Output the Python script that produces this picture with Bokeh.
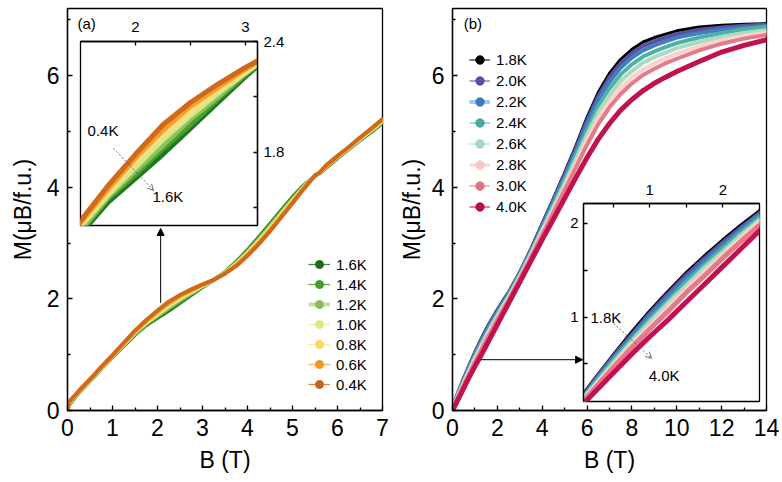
from bokeh.plotting import figure
from bokeh.layouts import row
from bokeh.models import (Range1d, FixedTicker, Legend, LegendItem, Label, Arrow,
                          NormalHead, OpenHead)
from bokeh.embed import file_html
from bokeh.resources import INLINE

FONT = "Liberation Sans"
NAN = float("nan")

# ---------------- panel (a) data ----------------
B_a = [0, 0.03, 0.25, 0.5, 0.75, 1.0, 1.25, 1.5, 1.75, 2.0, 2.25, 2.5, 2.75, 3.0, 3.25,
       3.5, 3.75, 4.0, 4.25, 4.5, 4.75, 5.0, 5.25, 5.5, 5.6, 5.75, 6.0, 6.25, 6.5, 6.75, 7.0]
M_16K = [0.00, 0.10, 0.32, 0.53, 0.75, 0.96, 1.16, 1.36, 1.53, 1.66, 1.79, 1.93, 2.07, 2.21, 2.34,
         2.48, 2.66, 2.87, 3.10, 3.34, 3.58, 3.82, 4.03, 4.20, 4.25, 4.35, 4.52, 4.68, 4.84, 4.99, 5.15]
M_14K = [0.00, 0.11, 0.33, 0.54, 0.75, 0.96, 1.17, 1.37, 1.55, 1.68, 1.82, 1.95, 2.09, 2.22, 2.34,
         2.47, 2.65, 2.85, 3.08, 3.32, 3.56, 3.80, 4.02, 4.20, 4.25, 4.36, 4.53, 4.69, 4.85, 5.00, 5.16]
M_12K = [0.00, 0.12, 0.33, 0.54, 0.76, 0.97, 1.18, 1.38, 1.56, 1.70, 1.84, 1.98, 2.10, 2.23, 2.34,
         2.47, 2.64, 2.84, 3.06, 3.30, 3.54, 3.78, 4.01, 4.20, 4.25, 4.36, 4.53, 4.69, 4.86, 5.01, 5.17]
M_10K = [0.00, 0.12, 0.33, 0.55, 0.76, 0.97, 1.18, 1.40, 1.57, 1.72, 1.87, 2.00, 2.12, 2.23, 2.34,
         2.47, 2.62, 2.82, 3.04, 3.27, 3.52, 3.76, 4.00, 4.20, 4.25, 4.37, 4.54, 4.70, 4.86, 5.02, 5.18]
M_08K = [0.00, 0.13, 0.34, 0.55, 0.77, 0.98, 1.19, 1.41, 1.59, 1.75, 1.90, 2.02, 2.14, 2.24, 2.34,
         2.46, 2.61, 2.80, 3.02, 3.25, 3.50, 3.75, 3.99, 4.21, 4.26, 4.38, 4.55, 4.71, 4.87, 5.03, 5.20]
M_06K = [0.00, 0.14, 0.34, 0.55, 0.77, 0.98, 1.20, 1.42, 1.60, 1.77, 1.92, 2.05, 2.15, 2.25, 2.34,
         2.46, 2.60, 2.79, 3.00, 3.23, 3.48, 3.73, 3.98, 4.21, 4.26, 4.38, 4.55, 4.71, 4.88, 5.04, 5.21]
M_04K = [0.00, 0.15, 0.35, 0.56, 0.78, 0.99, 1.21, 1.43, 1.62, 1.79, 1.95, 2.07, 2.17, 2.26, 2.34,
         2.45, 2.59, 2.77, 2.98, 3.21, 3.46, 3.71, 3.97, 4.21, 4.26, 4.39, 4.56, 4.72, 4.89, 5.05, 5.22]

labels_a = ["1.6K", "1.4K", "1.2K", "1.0K", "0.8K", "0.6K", "0.4K"]
series_a = [M_16K, M_14K, M_12K, M_10K, M_08K, M_06K, M_04K]
colors_a = ["#1c7a1c", "#4f9c33", "#8fc257", "#d6e98a", "#fddf80", "#f89f2e", "#cf6a1a"]
leg_line_a = ["#3f8f3f", "#66aa4a", "#c6dca6", "#e3efa6", "#fde6a0", "#fbb45e", "#d98a4a"]
leg_mark_a = ["#1a6a1a", "#4a9a30", "#8cbd52", "#dbea7a", "#fdd65a", "#f7941d", "#c8641a"]
leg_w_a = [1.3, 1.3, 4, 1.3, 1.3, 1.3, 1.3]

# ---------------- panel (b) data ----------------
B_b = [0, 0.1, 0.25, 0.5, 0.75, 1.0, 1.25, 1.5, 1.75, 2.0, 2.25, 2.5, 3.0, 3.5, 4.0, 4.5,
       5.0, 5.5, 6.0, 6.5, 7.0, 7.5, 8.0, 8.5, 9.0, 9.5, 10, 11, 12, 13, 14]
M_18K = [0.03, 0.17, 0.33, 0.58, 0.82, 1.05, 1.26, 1.46, 1.64, 1.81, 1.97, 2.12, 2.48, 2.90, 3.35, 3.80,
         4.26, 4.74, 5.25, 5.70, 6.04, 6.29, 6.47, 6.60, 6.68, 6.74, 6.80, 6.87, 6.90, 6.92, 6.93]
M_20K = [0.03, 0.16, 0.32, 0.57, 0.80, 1.03, 1.24, 1.44, 1.62, 1.79, 1.95, 2.10, 2.47, 2.88, 3.33, 3.77,
         4.22, 4.69, 5.19, 5.63, 5.97, 6.22, 6.40, 6.53, 6.61, 6.68, 6.74, 6.82, 6.86, 6.89, 6.91]
M_22K = [0.02, 0.15, 0.31, 0.55, 0.78, 1.01, 1.21, 1.41, 1.59, 1.76, 1.93, 2.09, 2.45, 2.86, 3.30, 3.74,
         4.18, 4.64, 5.13, 5.56, 5.89, 6.14, 6.32, 6.45, 6.54, 6.61, 6.68, 6.76, 6.82, 6.86, 6.89]
M_24K = [0.02, 0.14, 0.29, 0.53, 0.75, 0.97, 1.17, 1.37, 1.55, 1.73, 1.90, 2.06, 2.43, 2.83, 3.26, 3.69,
         4.12, 4.57, 5.03, 5.45, 5.77, 6.02, 6.20, 6.34, 6.43, 6.51, 6.58, 6.68, 6.76, 6.83, 6.87]
M_26K = [0.02, 0.13, 0.27, 0.50, 0.73, 0.94, 1.14, 1.33, 1.52, 1.69, 1.87, 2.03, 2.40, 2.81, 3.23, 3.64,
         4.06, 4.50, 4.94, 5.34, 5.65, 5.90, 6.08, 6.23, 6.33, 6.41, 6.49, 6.60, 6.69, 6.76, 6.81]
M_28K = [0.01, 0.12, 0.26, 0.48, 0.70, 0.90, 1.10, 1.29, 1.48, 1.66, 1.84, 2.01, 2.38, 2.78, 3.19, 3.59,
         4.00, 4.42, 4.85, 5.23, 5.54, 5.78, 5.97, 6.11, 6.22, 6.31, 6.39, 6.52, 6.63, 6.71, 6.77]
M_30K = [0.01, 0.11, 0.24, 0.46, 0.67, 0.87, 1.06, 1.26, 1.44, 1.63, 1.81, 1.98, 2.36, 2.75, 3.15, 3.55,
         3.95, 4.35, 4.76, 5.13, 5.43, 5.67, 5.86, 6.01, 6.12, 6.22, 6.30, 6.45, 6.57, 6.66, 6.73]
M_40K = [0.00, 0.08, 0.20, 0.40, 0.60, 0.79, 0.97, 1.16, 1.35, 1.54, 1.73, 1.92, 2.30, 2.68, 3.06, 3.43,
         3.80, 4.17, 4.53, 4.86, 5.14, 5.38, 5.57, 5.73, 5.86, 5.97, 6.07, 6.25, 6.42, 6.54, 6.64]

labels_b = ["1.8K", "2.0K", "2.2K", "2.4K", "2.6K", "2.8K", "3.0K", "4.0K"]
series_b = [M_18K, M_20K, M_22K, M_24K, M_26K, M_28K, M_30K, M_40K]
colors_b = ["#000000", "#5c4fa0", "#3f7fc0", "#4fb0a5", "#a7dcc2", "#fbd2ce", "#e47a8a", "#c0124e"]
widths_b = [3, 4, 4, 4, 4, 4, 4, 5]
leg_line_b = ["#333333", "#7a70b4", "#a9c8e8", "#7cc4bc", "#c2e6d4", "#fcd8d5", "#ea95a2", "#c8406e"]
leg_mark_b = ["#000000", "#5c4fa0", "#3b7bc0", "#4aaaa0", "#a0d8bc", "#f9c6c2", "#e27085", "#b80d4a"]
leg_w_b = [1.3, 1.3, 4, 1.3, 1.3, 3, 1.3, 1.3]


def style(p, xt, xm, yt, ym, tick_size, tin=5, mtin=3):
    p.xaxis.ticker = FixedTicker(ticks=xt, minor_ticks=xm)
    p.yaxis.ticker = FixedTicker(ticks=yt, minor_ticks=ym)
    p.xgrid.visible = False
    p.ygrid.visible = False
    p.outline_line_color = "black"
    p.outline_line_width = 1.3
    p.outline_line_alpha = 1
    for ax in p.axis:
        ax.major_tick_in = tin
        ax.major_tick_out = 0
        ax.minor_tick_in = mtin
        ax.minor_tick_out = 0
        ax.axis_line_width = 1.3
        ax.major_tick_line_width = 1.3
        ax.minor_tick_line_width = 1.3
        ax.major_label_text_font = FONT
        ax.major_label_text_font_size = tick_size
        ax.major_label_text_color = "black"
        ax.axis_label_text_font = FONT
        ax.axis_label_text_font_style = "normal"
        ax.axis_label_text_font_size = "23px"
        ax.axis_label_text_color = "black"


def main_fig(xmax, left, right):
    p = figure(width=391, height=482, x_range=Range1d(0, xmax), y_range=Range1d(0, 7.2),
               toolbar_location=None, output_backend="svg", title_location=None,
               min_border_left=left, min_border_right=right, min_border_top=8, min_border_bottom=72)
    p.background_fill_color = "white"
    p.border_fill_color = "white"
    return p


def legend_renderers(p, lc, lw, mc):
    dl = p.line([NAN], [NAN], line_color=lc, line_width=lw)
    dm = p.scatter([NAN], [NAN], size=4, fill_color=mc, line_color=mc)
    return [dl, dm]


def txt(x, y, s):
    return Label(x=x, y=y, text=s, text_font=FONT, text_font_size="15px",
                 text_color="black", text_baseline="middle")


# ---------------- figure (a) ----------------
pa = main_fig(7, 67, 9)
style(pa, list(range(0, 8)), [0.5 + i for i in range(7)], [0, 2, 4, 6], [1, 3, 5, 7], "23px")
pa.xaxis.axis_label = "B (T)"
pa.yaxis.axis_label = "M(μB/f.u.)"
pa.xaxis.major_label_standoff = 8
pa.yaxis.major_label_standoff = 8
pa.xaxis.axis_label_standoff = 8
pa.yaxis.axis_label_standoff = 8

items_a = []
for lab, ys, c, lc, mc, lw in zip(labels_a, series_a, colors_a, leg_line_a, leg_mark_a, leg_w_a):
    pa.line(B_a, ys, line_color=c, line_width=4, line_join="round", line_cap="round")
    items_a.append(LegendItem(label=lab, renderers=legend_renderers(pa, lc, lw, mc)))

leg_a = Legend(items=items_a, location=(241, 16), glyph_width=22, glyph_height=20, label_height=20,
               spacing=0, padding=0, margin=0, label_standoff=6, label_text_font=FONT,
               label_text_font_size="15px", label_text_color="black",
               border_line_alpha=0, background_fill_alpha=0)
pa.add_layout(leg_a)
pa.add_layout(txt(0.22, 6.93, "(a)"))
pa.add_layout(Arrow(end=NormalHead(size=7, fill_color="black", line_color="black"),
                    x_start=2.07, y_start=1.93, x_end=2.07, y_end=3.26,
                    line_color="black", line_width=1))

# ---------------- figure (b) ----------------
pb = main_fig(14, 61, 16)
style(pb, list(range(0, 15, 2)), list(range(1, 15, 2)), [0, 2, 4, 6], [1, 3, 5, 7], "23px")
pb.xaxis.axis_label = "B (T)"
pb.yaxis.axis_label = "M(μB/f.u.)"
pb.xaxis.major_label_standoff = 8
pb.yaxis.major_label_standoff = 8
pb.xaxis.axis_label_standoff = 8
pb.yaxis.axis_label_standoff = 4

items_b = []
for lab, ys, c, w, lc, mc, lw in zip(labels_b, series_b, colors_b, widths_b, leg_line_b, leg_mark_b, leg_w_b):
    pb.line(B_b, ys, line_color=c, line_width=w, line_join="round", line_cap="round")
    items_b.append(LegendItem(label=lab, renderers=legend_renderers(pb, lc, lw, mc)))

leg_b = Legend(items=items_b, location=(17, 193), glyph_width=21, glyph_height=21, label_height=21,
               spacing=0, padding=0, margin=0, label_standoff=6, label_text_font=FONT,
               label_text_font_size="15px", label_text_color="black",
               border_line_alpha=0, background_fill_alpha=0)
pb.add_layout(leg_b)
pb.add_layout(txt(0.5, 6.93, "(b)"))
pb.add_layout(Arrow(end=NormalHead(size=7, fill_color="black", line_color="black"),
                    x_start=1.25, y_start=0.91, x_end=5.8, y_end=0.91,
                    line_color="black", line_width=1))

# ---------------- inset (a) ----------------
ia = figure(width=214, height=217, x_range=Range1d(1.5, 3.11), y_range=Range1d(1.405, 2.4),
            x_axis_location="above", y_axis_location="right", title_location=None,
            toolbar_location=None, output_backend="svg",
            min_border_left=2, min_border_right=35, min_border_top=31, min_border_bottom=2)
ia.border_fill_alpha = 0
ia.background_fill_color = "white"
style(ia, [2, 3], [2.5], [1.8, 2.4], [1.5, 2.1], "15px", tin=4, mtin=4)
ia.xaxis.major_label_standoff = 10
ia.yaxis.major_label_standoff = 6
for ys, c in zip(series_a, colors_a):
    ia.line(B_a, ys, line_color=c, line_width=5, line_join="round")
ia.add_layout(txt(1.564, 1.92, "0.4K"))
ia.add_layout(txt(2.155, 1.562, "1.6K"))
ia.add_layout(Arrow(end=OpenHead(size=6, line_color="#666666", line_width=1),
                    x_start=1.8, y_start=1.822, x_end=2.164, y_end=1.595,
                    line_color="#666666", line_width=1, line_dash="2 2"))
ia.styles = {"position": "absolute", "left": "78px", "top": "10px"}

# ---------------- inset (b) ----------------
ib = figure(width=198, height=228, x_range=Range1d(0.096, 2.5), y_range=Range1d(0.1, 2.21),
            x_axis_location="above", y_axis_location="left", title_location=None,
            toolbar_location=None, output_backend="svg",
            min_border_left=20, min_border_right=2, min_border_top=28, min_border_bottom=2)
ib.border_fill_alpha = 0
ib.background_fill_color = "white"
style(ib, [1, 2], [0.5, 1.5], [1, 2], [0.5, 1.5], "15px", tin=4, mtin=4)
ib.xaxis.major_label_standoff = 9
ib.yaxis.major_label_standoff = 5
for ys, c in zip(series_b, colors_b):
    ib.line(B_b, ys, line_color=c, line_width=5, line_join="round")
ib.add_layout(txt(0.19, 1.0, "1.8K"))
ib.add_layout(txt(0.986, 0.38, "4.0K"))
ib.add_layout(Arrow(end=OpenHead(size=6, line_color="#666666", line_width=1),
                    x_start=0.507, y_start=0.933, x_end=1.027, y_end=0.56,
                    line_color="#666666", line_width=1, line_dash="2 2"))
ib.styles = {"position": "absolute", "left": "563px", "top": "175px"}

main = row(pa, pb)
open("out.html", "w").write(file_html([main, ia, ib], INLINE))
